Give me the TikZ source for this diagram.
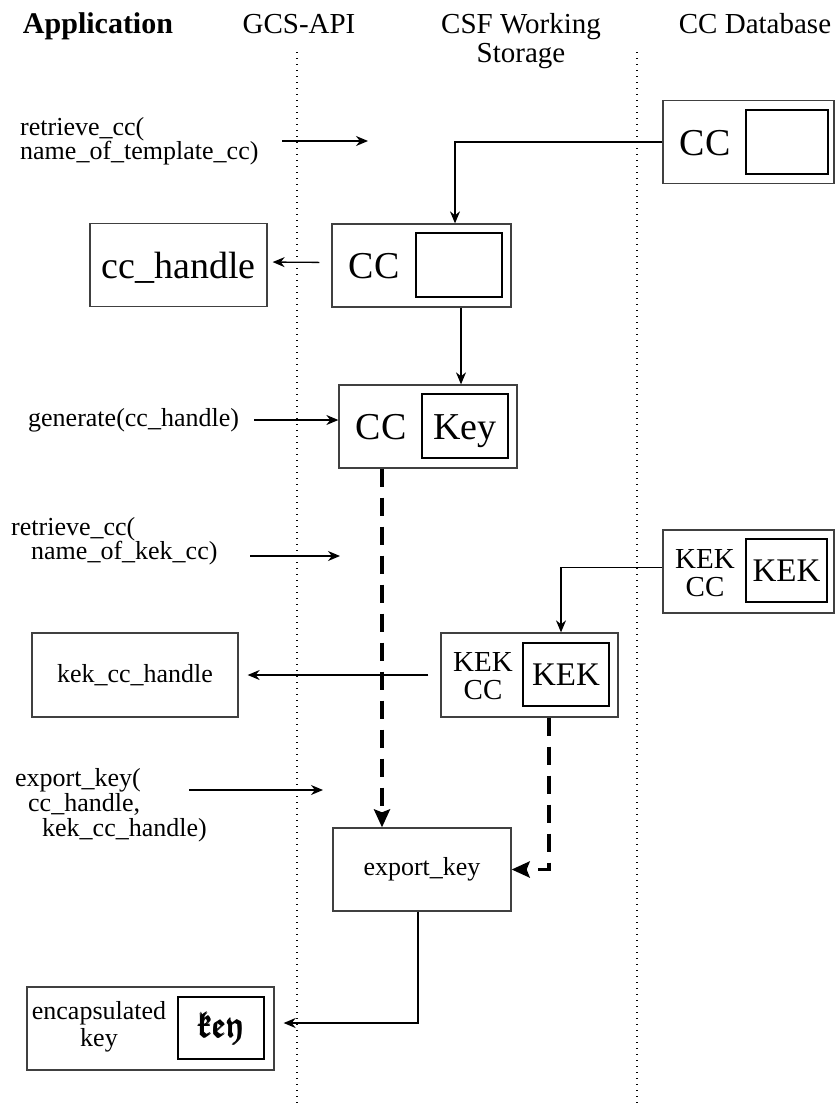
\documentclass[tikz,border=0pt]{standalone}
\usepackage{amsmath}
\usepackage{amssymb}
\usepackage{fontspec}
\setmainfont{Liberation Serif}
\usetikzlibrary{arrows.meta,positioning}

\newcommand{\smalltxt}{\fontsize{26}{24}\selectfont}
\newcommand{\bigtxt}{\fontsize{38}{40}\selectfont}
\newcommand{\fraktxt}{\fontsize{36}{36}\selectfont}

\begin{document}
\begin{tikzpicture}[x=1pt,y=-1pt,>={Stealth[length=12pt,width=10pt]},
  outer/.style={draw=black!75,line width=1.3pt,minimum width=178pt,minimum height=83pt,inner sep=0pt},
  inbox/.style={draw=black,line width=2pt,minimum width=86pt,minimum height=64pt,inner sep=0pt},
  bigtx/.style={font=\bigtxt,text height=26pt,text depth=0pt},
  call/.style={anchor=west,align=left,font=\smalltxt,inner sep=0pt},
  head/.style={font=\fontsize{29}{29}\selectfont,align=center,inner sep=0pt},
  lane/.style={line width=1.2pt,dash pattern=on 1.4pt off 4.6pt},
  flow/.style={->,line width=1.3pt},
  keyflow/.style={-{Stealth[length=18pt,width=16pt,inset=3pt]},line width=3.5pt,dash pattern=on 18pt off 11pt}]
  \useasboundingbox (0,0) rectangle (835,1103);

  % column titles
  \node[head,anchor=base,font=\fontsize{30}{29}\selectfont\bfseries] (hApp) at (98,33) {Application};
  \node[head,anchor=base] (hApi) at (299,33) {GCS-API};
  \node[head] (hCsf) at (521,41) {CSF Working\\Storage};
  \node[head,anchor=base] (hDb)  at (755,33) {CC Database};

  \draw[lane] (297,52) -- (297,1103);
  \draw[lane] (637,52) -- (637,1103);

  % boxes
  \node[outer,minimum width=171pt] (dbCC) at (748.5,142) {};
  \node[inbox,minimum width=82pt] (dbCCin) at (787,142) {};
  \node[bigtx] (dbCCtxt) at (705,142) {CC};

  \node[outer,minimum width=179pt] (wsCC) at (421.5,265.5) {};
  \node[inbox] (wsCCin) at (459,265) {};
  \node[bigtx] (wsCCtxt) at (374,265) {CC};

  \node[outer,minimum width=177pt,bigtx] (ccHandle) at (178.5,265) {cc\_handle};

  \node[outer] (wsKey) at (428,426.5) {};
  \node[inbox,bigtx] (wsKeyin) at (465,426) {Key};
  \node[bigtx] (wsKeytxt) at (381,426) {CC};

  \node[outer,minimum width=171pt] (dbKEK) at (748.5,571.5) {};
  \node[inbox,minimum width=81pt,minimum height=63pt,font=\fontsize{33}{30}\selectfont] (dbKEKin) at (786.5,570.5) {KEK};
  \node[align=center,font=\fontsize{29}{28}\selectfont,inner sep=0pt] (dbKEKtxt) at (705,573) {KEK\\CC};

  \node[outer,minimum width=177pt,minimum height=84pt] (wsKEK) at (529.5,675) {};
  \node[inbox,minimum height=63pt,font=\fontsize{33}{30}\selectfont] (wsKEKin) at (566,674.5) {KEK};
  \node[align=center,font=\fontsize{29}{28}\selectfont,inner sep=0pt] (wsKEKtxt) at (483,676) {KEK\\CC};

  \node[outer,minimum width=206pt,minimum height=84pt,font=\smalltxt] (kekHandle) at (135,675) {kek\_cc\_handle};

  \node[outer,font=\smalltxt] (exportKey) at (422,869.5) {export\_key};

  \node[outer,minimum width=247pt] (encKey) at (150.5,1028.5) {};
  \node[inbox,minimum height=62pt,font=\fraktxt] (encKeyin) at (221,1028) {$\pmb{\mathfrak{key}}$};
  \node[align=center,font=\fontsize{26}{27}\selectfont,inner sep=0pt] (encKeytxt) at (99,1027) {encapsulated\\key};

  % calls from the application
  \node[call] (tplCall) at (20,141) {retrieve\_cc(\\name\_of\_template\_cc)};
  \node[call] (genCall) at (28,420) {generate(cc\_handle)};
  \node[call] (kekCall) at (11,541) {retrieve\_cc(\\\hspace*{20pt}name\_of\_kek\_cc)};
  \node[call,font=\fontsize{26}{25}\selectfont] (expCall) at (15,805) {export\_key(\\\hspace*{13pt}cc\_handle,\\\hspace*{27pt}kek\_cc\_handle)};
  \coordinate (tplEnd) at (368,141);
  \coordinate (kekEnd) at (340,556);
  \coordinate (expEnd) at (323,790);

  \draw[flow] (282,141) -- (tplEnd);
  \draw[flow] ([xshift=15pt]genCall.east) -- (wsKey.west |- genCall);
  \draw[flow] (250,556) -- (kekEnd);
  \draw[flow] (189,790) -- (expEnd);

  \draw[flow] (dbCC.west) -| ([xshift=33.5pt]wsCC.north);
  \draw[flow,shorten <=12pt,shorten >=5pt] ([yshift=3pt]wsCC.west) -- ([yshift=3pt]ccHandle.east);
  \draw[flow] ([xshift=39.5pt]wsCC.south) -- ([xshift=33pt]wsKey.north);
  \draw[flow] ([yshift=4pt]dbKEK.west) -| ([xshift=31.5pt]wsKEK.north);
  \draw[flow,shorten <=12pt,shorten >=9pt] (wsKEK.west) -- (kekHandle.east);
  \draw[keyflow] ([xshift=-46pt]wsKey.south) -- ([xshift=-40pt]exportKey.north);
  \draw[keyflow] ([xshift=19.5pt]wsKEK.south) |- (exportKey.east);
  \draw[flow] ([xshift=-4pt]exportKey.south) |- ([xshift=9pt,yshift=5.5pt]encKey.east);
\end{tikzpicture}
\end{document}
